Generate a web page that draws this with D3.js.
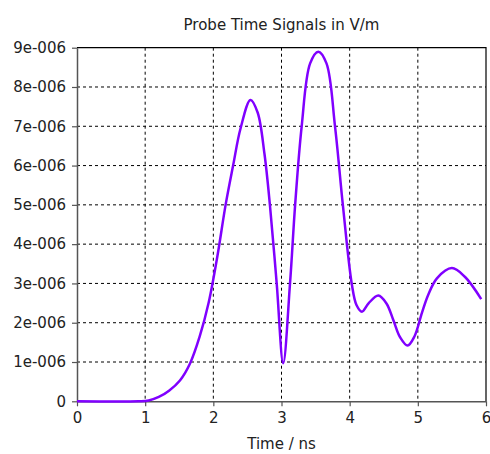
<!DOCTYPE html>
<html>
<head>
<meta charset="utf-8">
<script src="https://cdn.jsdelivr.net/npm/d3@7"></script>
<style>
  body { margin: 0; background: #fff; }
  text { font-family: "DejaVu Sans", sans-serif; fill: #222; }
</style>
</head>
<body>
<div id="chart"></div>
<script>
var title = "Probe Time Signals in V/m";
var xLabel = "Time / ns";
var xTicks = [0, 1, 2, 3, 4, 5, 6];
var yTicks = [0, 1e-6, 2e-6, 3e-6, 4e-6, 5e-6, 6e-6, 7e-6, 8e-6, 9e-6];
var yTickLabels = ["0", "1e-006", "2e-006", "3e-006", "4e-006", "5e-006", "6e-006", "7e-006", "8e-006", "9e-006"];

// probe signal (time in ns, value in 1e-6 V/m)
var times = [0, 0.9, 1.05, 1.2, 1.35, 1.51, 1.66, 1.8, 1.93, 2.06, 2.18, 2.29, 2.40, 2.545,
  2.65, 2.75, 2.83, 2.93, 3.025, 3.125, 3.2, 3.296, 3.42, 3.54, 3.66, 3.785, 3.90,
  4.03, 4.10, 4.18, 4.28, 4.42, 4.54, 4.64, 4.74, 4.85, 4.95, 5.06, 5.15, 5.28,
  5.50, 5.69, 5.93];
var values = [0, 0, 0.02, 0.11, 0.27, 0.53, 0.97, 1.65, 2.5, 3.7, 5.0, 6.0, 6.95, 7.67,
  7.35, 6.3, 5.0, 2.99, 0.97, 3.0, 5.0, 7.0, 8.6, 8.9, 8.6, 7.0, 5.0,
  3.0, 2.45, 2.28, 2.5, 2.69, 2.49, 2.07, 1.63, 1.42, 1.65, 2.25, 2.7, 3.13,
  3.39, 3.17, 2.6];

var w = 490, h = 454;
var mLeft = 77, mRight = 486, mTop = 47.7, mBottom = 401.3;

var svg = d3.select("#chart").append("svg")
  .attr("width", w).attr("height", h);

var xScale = d3.scaleLinear().domain([0, 6]).range([mLeft, mRight]);
var yScale = d3.scaleLinear().domain([0, 9e-6]).range([mBottom, mTop]);

// grid
svg.append("g").selectAll("line")
  .data(xTicks.slice(1, -1)).enter().append("line")
  .attr("x1", function(d) { return xScale(d); })
  .attr("x2", function(d) { return xScale(d); })
  .attr("y1", mTop).attr("y2", mBottom)
  .attr("stroke", "#000").attr("stroke-width", 1)
  .attr("stroke-dasharray", "3,3");
svg.append("g").selectAll("line")
  .data(yTicks.slice(1, -1)).enter().append("line")
  .attr("y1", function(d) { return yScale(d); })
  .attr("y2", function(d) { return yScale(d); })
  .attr("x1", mLeft).attr("x2", mRight)
  .attr("stroke", "#000").attr("stroke-width", 1)
  .attr("stroke-dasharray", "3,3");

// frame top / right
svg.append("path")
  .attr("d", "M" + mLeft + "," + mTop + "H" + mRight + "V" + mBottom)
  .attr("fill", "none").attr("stroke", "#000").attr("stroke-width", 1.2);

// axes
var xAxis = svg.append("g")
  .attr("transform", "translate(0," + mBottom + ")")
  .call(d3.axisBottom(xScale).tickValues(xTicks).tickSize(5).tickPadding(6).tickSizeOuter(0)
    .tickFormat(d3.format("d")));
var yAxis = svg.append("g")
  .attr("transform", "translate(" + mLeft + ",0)")
  .call(d3.axisLeft(yScale).tickValues(yTicks).tickSize(5).tickPadding(6).tickSizeOuter(0)
    .tickFormat(function(d, i) { return yTickLabels[i]; }));

[xAxis, yAxis].forEach(function(a) {
  a.select(".domain").attr("stroke", "#555").attr("stroke-width", 1.5);
  a.selectAll(".tick line").attr("stroke", "#555").attr("stroke-width", 1.2);
  a.selectAll(".tick text").style("font-family", "DejaVu Sans, sans-serif")
    .style("font-size", "15px").attr("fill", "#222");
});

// curve
var pts = times.map(function(t, i) { return [t, values[i] * 1e-6]; });
var line = d3.line()
  .x(function(d) { return xScale(d[0]); })
  .y(function(d) { return yScale(d[1]); })
  .curve(d3.curveCatmullRom.alpha(0.5));
svg.append("path")
  .datum(pts)
  .attr("d", line)
  .attr("fill", "none")
  .attr("stroke", "#8000ff")
  .attr("stroke-width", 2.5);

// titles
svg.append("text")
  .attr("x", (mLeft + mRight) / 2).attr("y", 30)
  .attr("text-anchor", "middle")
  .style("font-size", "15px")
  .text(title);
svg.append("text")
  .attr("x", (mLeft + mRight) / 2).attr("y", 449)
  .attr("text-anchor", "middle")
  .style("font-size", "15px")
  .text(xLabel);
</script>
</body>
</html>
